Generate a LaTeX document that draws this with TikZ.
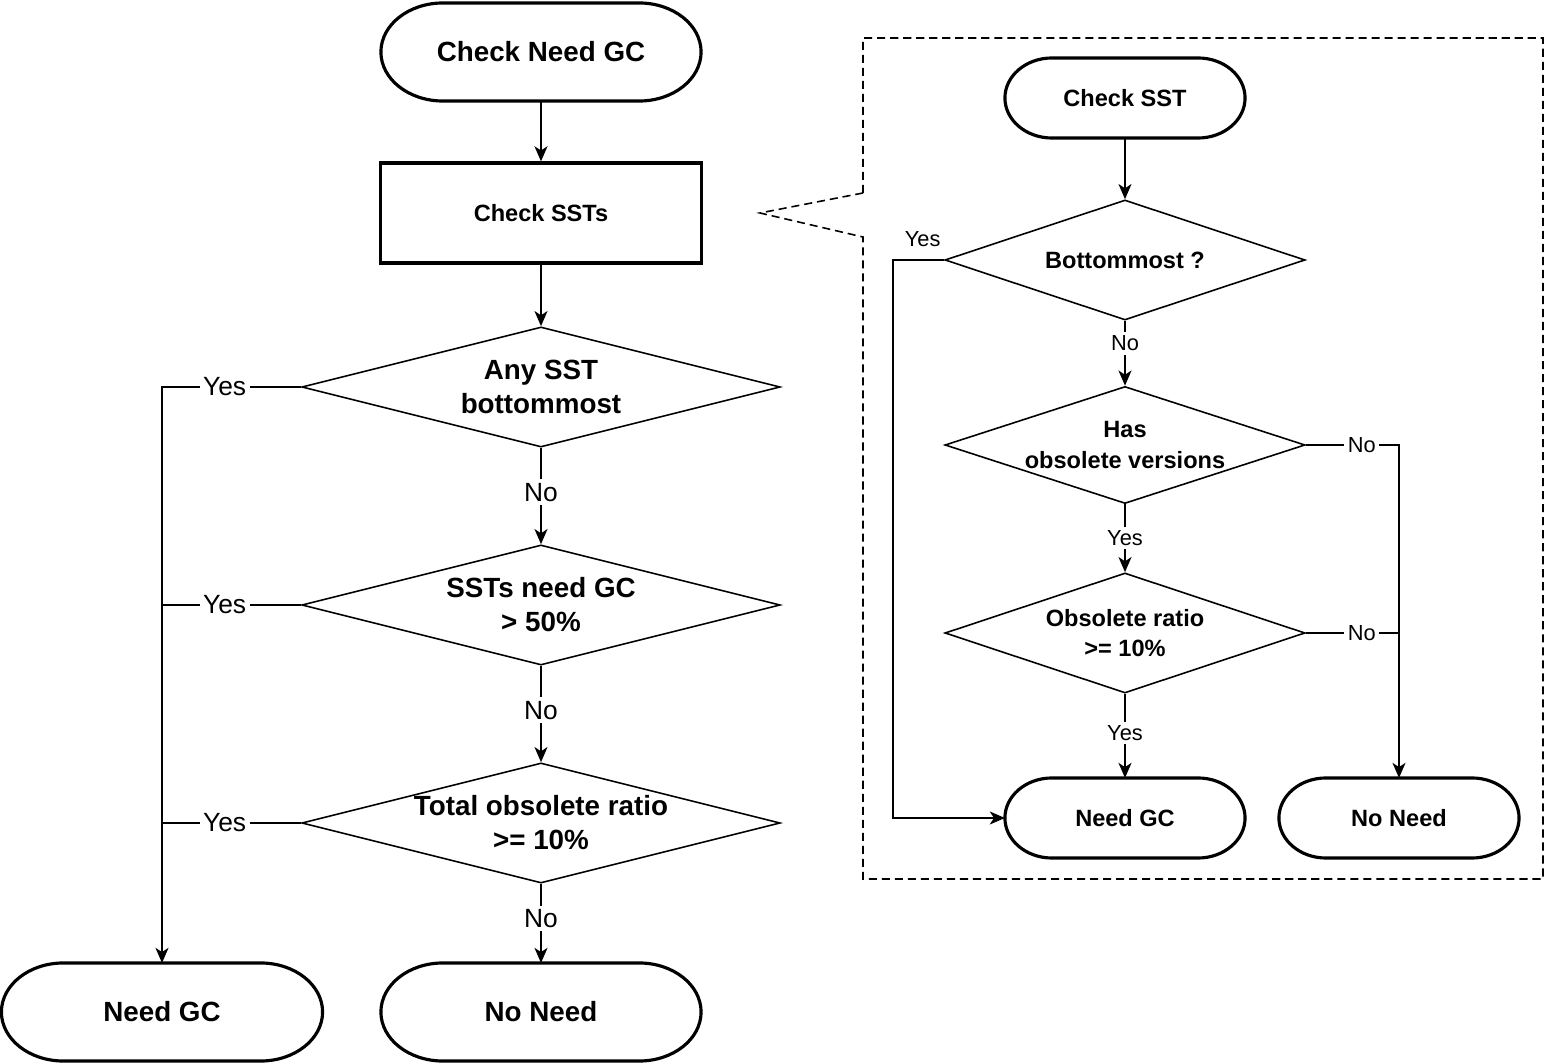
\documentclass[tikz,border=0pt]{standalone}
\usepackage{fontspec}
\setmainfont{Liberation Sans}
\usetikzlibrary{arrows.meta,positioning,shapes.geometric}

\begin{document}
\begin{tikzpicture}[
    x=0.01cm, y=-0.01cm,
    terminal/.style={outer sep=0pt, minimum width=3.2cm, minimum height=0.98cm, font=\fontsize{7.9}{9.5}\selectfont\bfseries},
    smallterm/.style={terminal, minimum width=2.4cm, minimum height=0.8cm, font=\fontsize{6.7}{8}\selectfont\bfseries},
    termline/.style={line width=0.9pt},
    process/.style={draw, line width=0.9pt, minimum width=3.2cm, minimum height=1cm, font=\fontsize{6.7}{8}\selectfont\bfseries},
    decision/.style={diamond, draw, line width=0.45pt, inner sep=0pt, minimum width=4.78cm, minimum height=1.2cm},
    smalldecision/.style={decision, minimum width=3.6cm, minimum height=1.18cm},
    dtext/.style={font=\fontsize{7.9}{9.7}\selectfont\bfseries, align=center},
    sdtext/.style={font=\fontsize{6.7}{8.7}\selectfont\bfseries, align=center},
    arrow/.style={-{Stealth[length=4.3pt, width=3.7pt, inset=1.2pt]}, line width=0.45pt},
    line/.style={line width=0.45pt},
    answer/.style={fill=white, inner sep=1pt, font=\fontsize{7.5}{9}\selectfont},
    sanswer/.style={answer, font=\fontsize{6.2}{7.5}\selectfont},
    callout/.style={line width=0.45pt, dash pattern=on 2.3pt off 1.4pt}
]
\useasboundingbox (0,0) rectangle (1544,1064);

% Main flow
\node[terminal] (start) at (541,52) {Check Need GC};
\node[process] (ssts) at (541,213) {Check SSTs};
\node[decision, label={[dtext]center:{Any SST\\bottommost}}] (anyb) at (541,387) {};
\node[decision, label={[dtext]center:{SSTs need GC\\> 50\%}}] (gcpct) at (541,605) {};
\node[decision, label={[dtext]center:{Total obsolete ratio\\>= 10\%}}] (ratio) at (541,823) {};
\node[terminal] (nonl) at (541,1012) {No Need};
\node[terminal, minimum width=3.21cm] (needl) at (162,1012) {Need GC};

% Per-SST check
\node[smallterm] (chk) at (1125,98) {Check SST};
\node[smalldecision, minimum height=1.2cm, label={[sdtext]center:{Bottommost ?}}] (bott) at (1125,260) {};
\node[smalldecision, minimum height=1.17cm, label={[sdtext]center:{Has\\obsolete versions}}] (hasobs) at (1125,445) {};
\node[smalldecision, minimum height=1.2cm, label={[sdtext]center:{Obsolete ratio\\>= 10\%}}] (obsr) at (1125,633) {};
\node[smallterm] (needr) at (1125,818) {Need GC};
\node[smallterm] (nonr) at (1399,818) {No Need};
\coordinate (yesx) at (893,0);

% Terminator outlines
\foreach \n/\rx/\ry in {start/0.62/0.49, nonl/0.62/0.49, needl/0.62/0.49, chk/0.47/0.4, needr/0.47/0.4, nonr/0.47/0.4}
  \draw[termline] ([xshift=\rx cm]\n.north west) -- ([xshift=-\rx cm]\n.north east)
    arc[start angle=90, end angle=-90, x radius=\rx cm, y radius=\ry cm]
    -- ([xshift=\rx cm]\n.south west)
    arc[start angle=270, end angle=90, x radius=\rx cm, y radius=\ry cm] -- cycle;

% Callout frame
\draw[callout] (863,193) -- (863,38) -- (1543,38) -- (1543,879) -- (863,879) -- (863,237) -- (760,213) -- cycle;

% Arrows (main)
\draw[arrow] (start) -- (ssts);
\draw[arrow] (ssts) -- (anyb);
\draw[arrow] (anyb) -- node[answer, pos=0.46] {No} (gcpct);
\draw[arrow] (gcpct) -- node[answer, pos=0.46] {No} (ratio);
\draw[arrow] (ratio) -- node[answer, pos=0.44] {No} (nonl);
\draw[arrow] (anyb.west) -- node[answer, pos=0.55] {Yes} (anyb.west -| needl) -- (needl.north);
\draw[line] (gcpct.west) -- node[answer, pos=0.55] {Yes} (gcpct.west -| needl);
\draw[line] (ratio.west) -- node[answer, pos=0.55] {Yes} (ratio.west -| needl);

% Arrows (per SST)
\draw[arrow] (chk) -- (bott);
\draw[arrow] (bott) -- node[sanswer, pos=0.35] {No} (hasobs);
\draw[arrow] (hasobs) -- node[sanswer] {Yes} (obsr);
\draw[arrow] (obsr) -- node[sanswer, pos=0.47] {Yes} (needr);
\draw[arrow] (bott.west) -- node[sanswer, fill=none, above=2.5pt, pos=0.42] {Yes} (bott.west -| yesx) |- (needr.west);
\draw[arrow] (hasobs.east) -- node[sanswer, pos=0.6] {No} (hasobs.east -| nonr) -- (nonr.north);
\draw[line] (obsr.east) -- node[sanswer, pos=0.6] {No} (obsr.east -| nonr);
\end{tikzpicture}
\end{document}
